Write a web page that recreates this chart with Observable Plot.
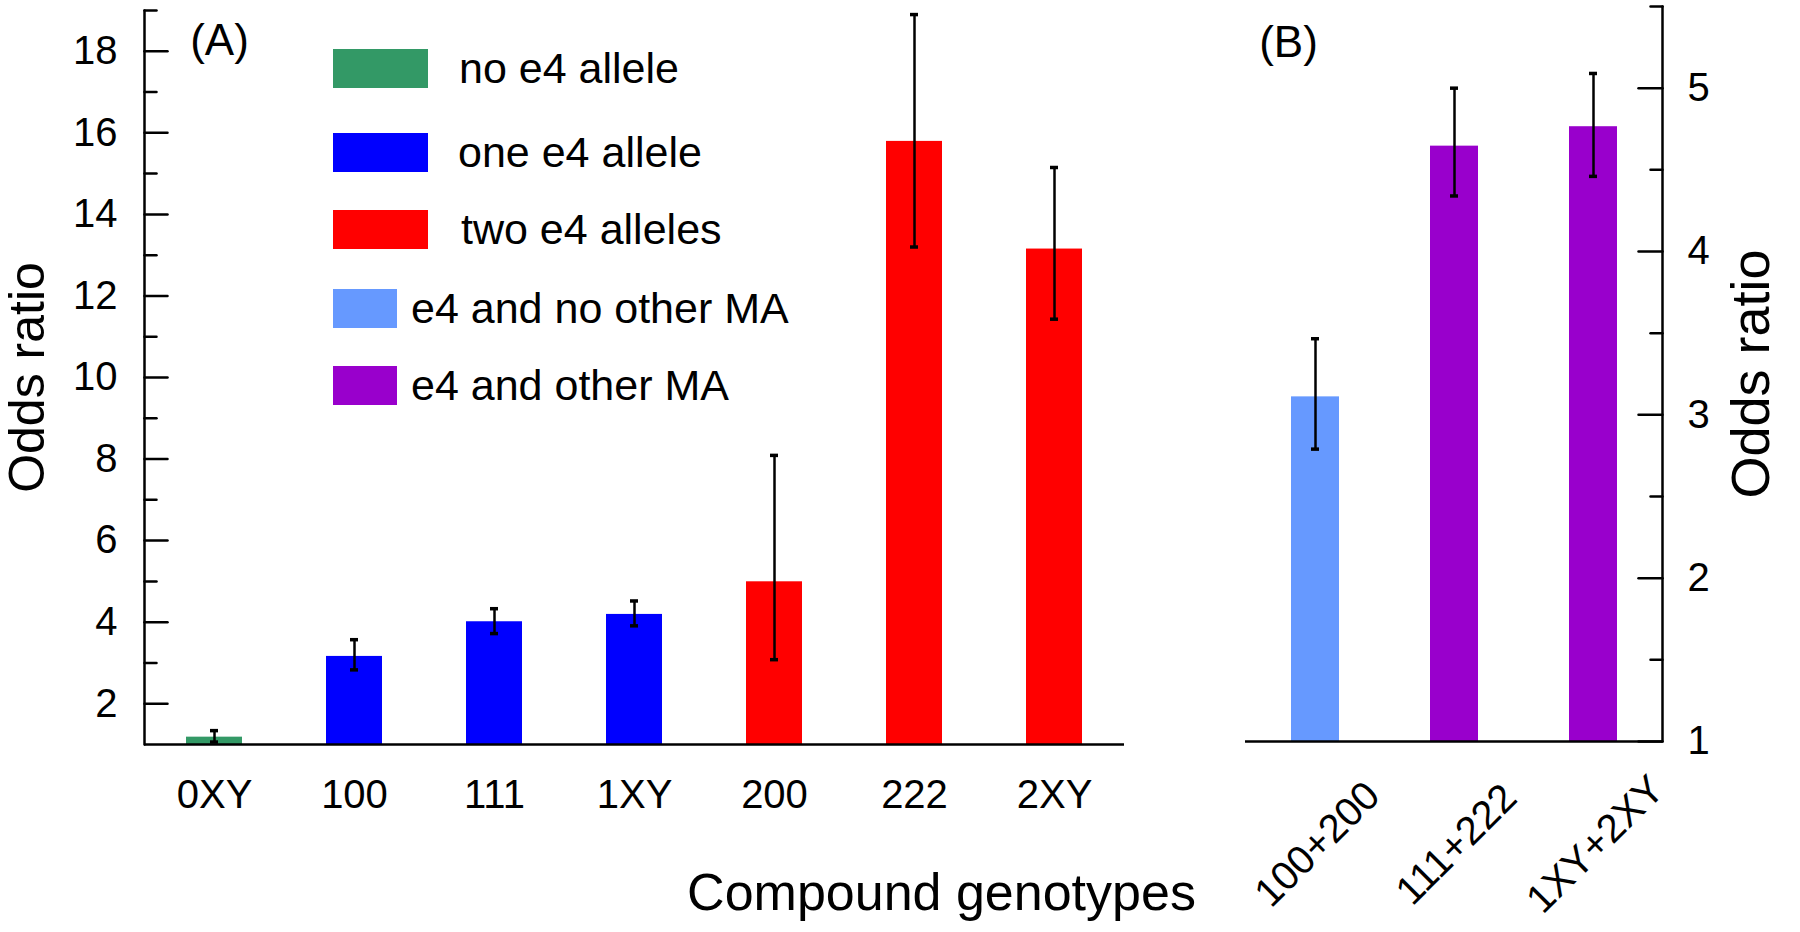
<!DOCTYPE html>
<html><head><meta charset="utf-8">
<script src="https://cdn.jsdelivr.net/npm/d3@7"></script>
<script src="https://cdn.jsdelivr.net/npm/@observablehq/plot@0.6"></script>
<style>
html,body{margin:0;padding:0;background:#fff;}
#wrap{position:relative;width:1800px;height:932px;overflow:hidden;font-family:Arial,"Liberation Sans",Helvetica,sans-serif;color:#000;}
#wrap svg{position:absolute;top:0;overflow:visible;}
.sw{position:absolute;height:39px;}
.lt{position:absolute;font-size:43px;line-height:39px;white-space:nowrap;}
</style></head><body><div id="wrap"></div>
<script>
// ---- data ----
const genotypesA = ["0XY", "100", "111", "1XY", "200", "222", "2XY"];
const orA = [1.18, 3.16, 4.01, 4.19, 4.99, 15.79, 13.15];
const loA = [1.06, 2.83, 3.72, 3.91, 3.08, 13.2, 11.43];
const hiA = [1.34, 3.57, 4.33, 4.52, 8.09, 18.9, 15.15];
const groupA = ["no e4 allele", "one e4 allele", "one e4 allele", "one e4 allele", "two e4 alleles", "two e4 alleles", "two e4 alleles"];

const genotypesB = ["100+200", "111+222", "1XY+2XY"];
const orB = [3.11, 4.645, 4.764];
const loB = [2.79, 4.34, 4.46];
const hiB = [3.466, 5.0, 5.09];
const groupB = ["e4 and no other MA", "e4 and other MA", "e4 and other MA"];

const groups = ["no e4 allele", "one e4 allele", "two e4 alleles", "e4 and no other MA", "e4 and other MA"];
const groupColors = ["#339966", "#0000ff", "#ff0000", "#6699ff", "#9900cc"];

const yTicksA = [2, 4, 6, 8, 10, 12, 14, 16, 18];
const yMinorA = [3, 5, 7, 9, 11, 13, 15, 17, 19];
const yTicksB = [1, 2, 3, 4, 5];
const yMinorB = [1.5, 2.5, 3.5, 4.5, 5.5];

// ---- build ----
const FONT = 'Arial, "Liberation Sans", Helvetica, sans-serif';
const dataA = genotypesA.map((g, i) => ({g, or: orA[i], lo: loA[i], hi: hiA[i], group: groupA[i]}));
const dataB = genotypesB.map((g, i) => ({g, or: orB[i], lo: loB[i], hi: hiB[i], group: groupB[i]}));

const tickRightShape = {draw(ctx, l) { ctx.moveTo(0, 0); ctx.lineTo(l, 0); }};
const tickLeftShape = {draw(ctx, l) { ctx.moveTo(0, 0); ctx.lineTo(-l, 0); }};
const downShape = {draw(ctx, l) { ctx.moveTo(0, 0); ctx.lineTo(0, l); }};

const HA = 932, mTA = 10, mBA = 188;
const plotA = Plot.plot({
  width: 1240, height: HA,
  marginLeft: 144, marginRight: 116, marginTop: mTA, marginBottom: mBA,
  style: {fontFamily: FONT, fontSize: "40px", background: "none", overflow: "visible", color: "black"},
  x: {domain: genotypesA, paddingInner: 0.6, paddingOuter: 0.3, label: null},
  y: {domain: [1, 19], label: null, clamp: true},
  color: {domain: groups, range: groupColors},
  marks: [
    Plot.barY(dataA, {x: "g", y1: () => 1, y2: "or", fill: "group"}),
    Plot.ruleX(dataA, {x: "g", y1: "lo", y2: "hi", stroke: "black", strokeWidth: 2.5}),
    Plot.tickY(dataA, {x: "g", y: "lo", insetLeft: 24, insetRight: 24, stroke: "black", strokeWidth: 3.5}),
    Plot.tickY(dataA, {x: "g", y: "hi", insetLeft: 24, insetRight: 24, stroke: "black", strokeWidth: 3.5}),
    Plot.ruleY([1], {stroke: "black", strokeWidth: 2.5}),
    Plot.vector([19], {y: d => d, frameAnchor: "left", anchor: "start", length: HA - mTA - mBA, shape: downShape, stroke: "black", strokeWidth: 2.5}),
    Plot.vector(yTicksA, {y: d => d, frameAnchor: "left", anchor: "start", length: 23, shape: tickRightShape, stroke: "black", strokeWidth: 2.5}),
    Plot.vector(yMinorA, {y: d => d, frameAnchor: "left", anchor: "start", length: 12, shape: tickRightShape, stroke: "black", strokeWidth: 2.5}),
    Plot.axisY(yTicksA, {anchor: "left", tickSize: 0, tickPadding: 27, fontSize: 40, label: null, tickFormat: d3.format("d")}),
    Plot.axisX({anchor: "bottom", tickSize: 0, tickPadding: 35, fontSize: 40, label: null}),
    Plot.text(["Odds ratio"], {text: d => d, frameAnchor: "left", textAnchor: "middle", lineAnchor: "middle", dx: -117, rotate: -90, fontSize: 50}),
    Plot.text(["Compound genotypes"], {text: d => d, frameAnchor: "bottom", textAnchor: "middle", lineAnchor: "middle", dx: 307, dy: 149, fontSize: 52}),
    Plot.text(["(A)"], {text: d => d, frameAnchor: "top-left", textAnchor: "middle", lineAnchor: "middle", dx: 75, dy: 30, fontSize: 44})
  ]
});

const HB = 932, mTB = 6, mBB = 191;
const plotB = Plot.plot({
  width: 640, height: HB,
  marginLeft: 85, marginRight: 138, marginTop: mTB, marginBottom: mBB,
  style: {fontFamily: FONT, fontSize: "40px", background: "none", overflow: "visible", color: "black"},
  x: {domain: genotypesB, paddingInner: 0.655, paddingOuter: 0.3275, label: null},
  y: {domain: [1, 5.5], label: null, clamp: true},
  color: {domain: groups, range: groupColors},
  marks: [
    Plot.barY(dataB, {x: "g", y1: () => 1, y2: "or", fill: "group"}),
    Plot.ruleX(dataB, {x: "g", y1: "lo", y2: "hi", stroke: "black", strokeWidth: 2.5}),
    Plot.tickY(dataB, {x: "g", y: "lo", insetLeft: 20, insetRight: 20, stroke: "black", strokeWidth: 3.5}),
    Plot.tickY(dataB, {x: "g", y: "hi", insetLeft: 20, insetRight: 20, stroke: "black", strokeWidth: 3.5}),
    Plot.ruleY([1], {stroke: "black", strokeWidth: 2.5}),
    Plot.vector([5.5], {y: d => d, frameAnchor: "right", anchor: "start", length: HB - mTB - mBB, shape: downShape, stroke: "black", strokeWidth: 2.5}),
    Plot.vector(yTicksB, {y: d => d, frameAnchor: "right", anchor: "start", length: 24, shape: tickLeftShape, stroke: "black", strokeWidth: 2.5}),
    Plot.vector(yMinorB, {y: d => d, frameAnchor: "right", anchor: "start", length: 12, shape: tickLeftShape, stroke: "black", strokeWidth: 2.5}),
    Plot.axisY(yTicksB, {anchor: "right", tickSize: 0, tickPadding: 25, fontSize: 40, label: null, tickFormat: d3.format("d")}),
    Plot.text(dataB, {x: "g", text: "g", frameAnchor: "bottom", textAnchor: "middle", lineAnchor: "middle", rotate: -45, dx: 2, dy: 103, fontSize: 40}),
    Plot.axisX({ticks: [], label: null}),
    Plot.text(["Odds ratio"], {text: d => d, frameAnchor: "right", textAnchor: "middle", lineAnchor: "middle", dx: 89, rotate: -90, fontSize: 54}),
    Plot.text(["(B)"], {text: d => d, frameAnchor: "top-left", textAnchor: "middle", lineAnchor: "middle", dx: 43, dy: 36, fontSize: 44})
  ]
});

const wrap = document.getElementById("wrap");
plotA.style.left = "0px";
plotB.style.left = "1160px";
wrap.appendChild(plotA);
wrap.appendChild(plotB);

// ---- legend (inside panel A) ----
const legCenters = [68, 152.5, 229, 308, 385];
const legSwW = [95, 95, 95, 64, 64];
const legTextX = [459, 458, 461, 411, 411];
groups.forEach((g, i) => {
  const sw = document.createElement("div");
  sw.className = "sw";
  sw.style.left = "333px";
  sw.style.top = (legCenters[i] - 19.5) + "px";
  sw.style.width = legSwW[i] + "px";
  sw.style.background = groupColors[i];
  wrap.appendChild(sw);
  const t = document.createElement("div");
  t.className = "lt";
  t.style.left = legTextX[i] + "px";
  t.style.top = (legCenters[i] - 19.5) + "px";
  t.textContent = g;
  wrap.appendChild(t);
});
</script></body></html>
